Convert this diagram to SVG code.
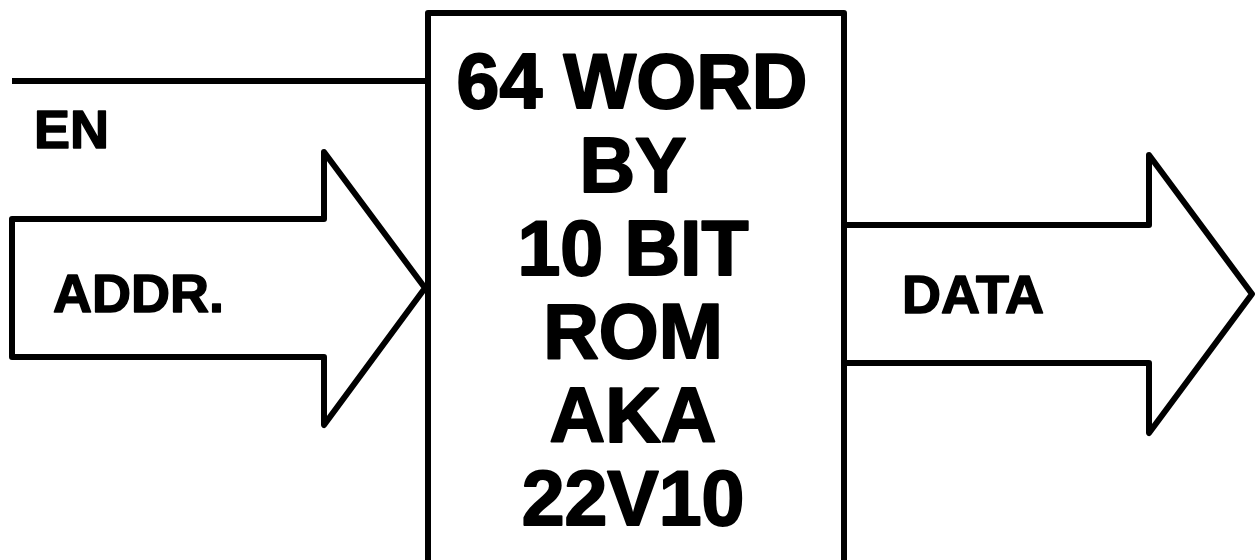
<svg xmlns="http://www.w3.org/2000/svg" width="1255" height="560" viewBox="0 0 1255 560">
<style>
.ln{fill:none;stroke:#000;stroke-width:6;stroke-linejoin:round;stroke-linecap:butt}
.big{font-family:"Liberation Sans",Arial,sans-serif;font-weight:bold;font-size:77px;fill:#000;stroke:#000;stroke-width:2;stroke-linejoin:round;text-anchor:middle}
.lbl{font-family:"Liberation Sans",Arial,sans-serif;font-weight:bold;font-size:54px;fill:#000;stroke:#000;stroke-width:1.5;stroke-linejoin:round}
</style>
<rect width="1255" height="560" fill="#fff"/>
<g id="rom">
<rect class="ln" x="428" y="13" width="416" height="600"/>
<text class="big" x="632" y="108">64 WORD</text>
<text class="big" x="633" y="192">BY</text>
<text class="big" x="633" y="275">10 BIT</text>
<text class="big" x="633" y="358">ROM</text>
<text class="big" x="633" y="442">AKA</text>
<text class="big" x="633" y="525">22V10</text>
</g>
<g id="connectors">
<g id="en">
<line class="ln" x1="12" y1="81" x2="428" y2="81"/>
<text class="lbl" x="34" y="148">EN</text>
</g>
<g id="addr">
<polygon class="ln" points="12,219 324,219 324,152 425,288 324,425 324,357 12,357"/>
<text class="lbl" x="53" y="312">ADDR.</text>
</g>
<g id="data">
<polyline class="ln" points="844,225 1149,225 1149,155 1252,294 1149,433 1149,363 844,363"/>
<text class="lbl" x="902" y="313">DATA</text>
</g>
</g>
</svg>
